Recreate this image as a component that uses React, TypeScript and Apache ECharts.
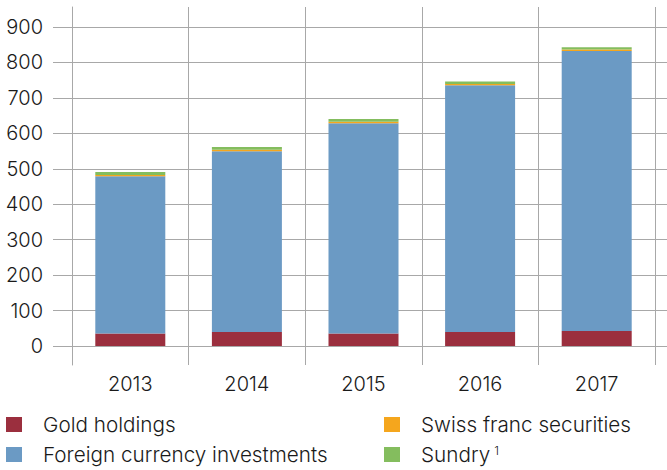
import React, { useEffect, useRef } from "react";
import * as echarts from "echarts";

const years = ["2013", "2014", "2015", "2016", "2017"];
const gold = [35.6, 39.6, 35.5, 39.4, 42.5];
const foreign = [443.3, 510.1, 593.2, 696.1, 790.1];
const swiss = [3.6, 3.9, 3.9, 4.0, 3.9];
const sundry = [8.2, 7.7, 7.5, 6.9, 6.6];
const yTicks = { min: 0, max: 900, interval: 100 };

const FONT = "Inter";
const FS = 20;
const LFS = 20.7;
const FW = 300;
const TXT = "#1a1a1a";
const GRID = "#a8a8a8";

export default function App() {
  const ref = useRef<HTMLDivElement>(null);
  useEffect(() => {
    if (!ref.current) return;
    const chart = echarts.init(ref.current, undefined, { renderer: "svg" });
    const legendText = {
      fontFamily: FONT,
      fontSize: LFS,
      fontWeight: FW,
      color: TXT,
      lineHeight: 20,
      padding: [0, 0, 0, 16],
      rich: {
        n: { fontFamily: FONT, fontSize: LFS, fontWeight: FW, color: TXT, lineHeight: 20 },
        s: { fontFamily: FONT, fontSize: 12, fontWeight: FW, color: TXT, lineHeight: 20, verticalAlign: "top", padding: [0, 0, 8, 4] },
      },
    };
    const legendBase = {
      top: 414,
      height: 56,
      padding: 0,
      orient: "vertical",
      itemWidth: 16,
      itemHeight: 15,
      itemGap: 9,
      icon: "rect",
      textStyle: legendText,
      selectedMode: false,
    };
    const axisText = { fontFamily: FONT, fontSize: FS, fontWeight: FW, color: TXT };
    chart.setOption({
      animation: false,
      backgroundColor: "#fff",
      grid: [
        { left: 53, right: 0, top: 27, bottom: 124 },
        { left: 72, right: 12, top: 27, bottom: 124 },
        { left: 72, right: 12, top: 7, bottom: 105 },
      ],
      xAxis: [
        { type: "value", gridIndex: 0, show: false },
        { type: "category", gridIndex: 1, data: years, show: false },
        {
          type: "category",
          gridIndex: 2,
          data: years,
          axisLine: { show: false },
          axisTick: { show: false },
          axisLabel: { margin: 9, ...axisText },
          splitLine: { show: true, lineStyle: { color: GRID, width: 1 } },
        },
      ],
      yAxis: [
        {
          type: "value",
          gridIndex: 0,
          min: yTicks.min,
          max: yTicks.max,
          interval: yTicks.interval,
          axisLine: { show: false },
          axisTick: { show: false },
          axisLabel: { margin: 10, ...axisText },
          splitLine: { show: true, lineStyle: { color: GRID, width: 1 } },
        },
        { type: "value", gridIndex: 1, min: yTicks.min, max: yTicks.max, show: false },
        {
          type: "value",
          gridIndex: 2,
          axisLabel: { show: false },
          axisTick: { show: false },
          splitLine: { show: false },
          axisLine: { show: true, lineStyle: { color: GRID, width: 1 } },
        },
      ],
      legend: [
        {
          ...legendBase,
          left: 6,
          data: ["Gold holdings", "Foreign currency investments"],
        },
        {
          ...legendBase,
          left: 384,
          data: ["Swiss franc securities", "Sundry"],
          formatter: (name: string) => (name === "Sundry" ? "{n|Sundry}{s|1}" : "{n|" + name + "}"),
        },
      ],
      series: [
        { name: "Gold holdings", data: gold, color: "#9b2f3e" },
        { name: "Foreign currency investments", data: foreign, color: "#6b9ac4" },
        { name: "Swiss franc securities", data: swiss, color: "#f5a61d" },
        { name: "Sundry", data: sundry, color: "#84bd5e" },
      ].map((s) => ({
        ...s,
        type: "bar",
        stack: "total",
        xAxisIndex: 1,
        yAxisIndex: 1,
        barWidth: 70,
        itemStyle: { color: s.color },
      })),
    });
    return () => chart.dispose();
  }, []);
  return <div ref={ref} style={{ width: 667, height: 470, position: "absolute", left: 0, top: 0 }} />;
}
